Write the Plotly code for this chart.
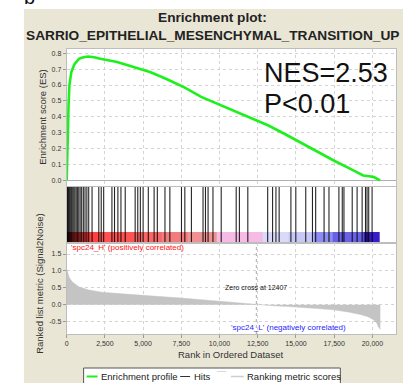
import plotly.graph_objects as go

W, H = 412, 383

# ---------------- data ----------------
es_rank = [0, 40, 80, 120, 180, 300, 500, 800, 1100, 1400, 1800, 2200, 2700, 3300,
           4000, 4500, 5500, 6600, 7700, 8800, 9900, 11000, 12100, 13200, 14300,
           15300, 16400, 17500, 18500, 19400, 19800, 20100, 20500]
es_value = [0.0, 0.1, 0.3, 0.47, 0.6, 0.68, 0.73, 0.765, 0.775, 0.78, 0.775, 0.765,
            0.755, 0.745, 0.725, 0.71, 0.68, 0.635, 0.585, 0.525, 0.48, 0.44, 0.395,
            0.345, 0.29, 0.237, 0.18, 0.123, 0.075, 0.03, 0.025, 0.02, 0.0]

hit_ranks = [20, 60, 110, 160, 210, 270, 330, 400, 470, 540, 620, 700, 790, 880, 980,
             1090, 1200, 1320, 1440, 1660, 2100, 2260, 2420, 2960, 3130, 3350, 3550,
             3830, 4480, 4650, 4820, 5000, 5340, 5720, 5930, 6430, 6750, 7510, 7730,
             8160, 8920, 9080, 9250, 9570, 10110, 11090, 11300, 11850, 13150, 13470,
             13690, 13900, 14670, 14990, 15640, 16080, 16290, 16840, 17160, 17810,
             18030, 18140, 18680, 19000, 19330, 19550, 19650, 19760, 19980]

metric_rank = [0, 50, 150, 358, 792, 1442, 2309, 3400, 4477, 5500, 6645, 7700, 8813,
               9900, 10981, 11700, 12407, 13500, 14500, 15320, 16400, 17470, 18400,
               19220, 19700, 20070, 20300, 20390, 20520]
metric_value = [1.07, 0.95, 0.82, 0.68, 0.53, 0.44, 0.37, 0.33, 0.30, 0.265, 0.23, 0.19,
                0.15, 0.11, 0.07, 0.035, 0.0, -0.03, -0.05, -0.07, -0.11, -0.15, -0.21,
                -0.29, -0.35, -0.44, -0.55, -0.65, -0.73]

band_edges = [0, 358, 2000, 4477, 6200, 7946, 9789, 12824, 14500, 16184, 17377, 19436, 20477]
band_index = list(range(len(band_edges) - 1))

x_tick_vals = [0, 2500, 5000, 7500, 10000, 12500, 15000, 17500, 20000]
x_tick_text = ["0", "2,500", "5,000", "7,500", "10,000", "12,500", "15,000", "17,500", "20,000"]
es_tick_vals = [0.0, 0.1, 0.2, 0.3, 0.4, 0.5, 0.6, 0.7, 0.8]
es_tick_text = ["0.0", "0.1", "0.2", "0.3", "0.4", "0.5", "0.6", "0.7", "0.8"]
metric_tick_vals = [-0.5, 0.0, 0.5, 1.0, 1.5]
metric_tick_text = ["-0.5", "0.0", "0.5", "1.0", "1.5"]
zero_cross = 12407

title_line1 = "Enrichment plot:"
title_line2 = "SARRIO_EPITHELIAL_MESENCHYMAL_TRANSITION_UP"
nes_label = "NES=2.53"
p_label = "P<0.01"

# ---------------- styles ----------------
band_colors = ["#b0101c", "#ff3030", "#ff4444", "#f85a5a", "#f27070", "#ee8888",
               "#f6b6e2", "#d6d6fa", "#c4c4f6", "#8484f0", "#5c54e6", "#2a08c4"]
FONT = "Liberation Sans, Arial, sans-serif"
BEIGE = "#EAE6D5"
GRID = "#d4d4d4"
FRAME = "#bdbdbd"
TICKC = "#333333"
XR = [0, 21550]


def fx(p):
    return p / W


def fy(p):
    return 1 - p / H


fig = go.Figure()

# enrichment profile
fig.add_trace(go.Scatter(x=es_rank, y=es_value, mode="lines",
                         line=dict(color="#1ef01e", width=2.6),
                         xaxis="x", yaxis="y", hoverinfo="skip", showlegend=False))

# hits (drawn below the colour band)
hx, hy = [], []
for r in hit_ranks:
    hx += [r, r, None]
    hy += [0, 1, None]
fig.add_trace(go.Scatter(x=hx, y=hy, mode="lines", line=dict(color="rgba(0,0,0,0.85)", width=1.1),
                         xaxis="x2", yaxis="y2", hoverinfo="skip", showlegend=False))

# colour band
n = len(band_colors)
cscale = [[i / (n - 1), c] for i, c in enumerate(band_colors)]
fig.add_trace(go.Heatmap(x=band_edges, y=[0, 0.196], z=[band_index], colorscale=cscale,
                         zmin=0, zmax=n - 1, showscale=False, opacity=0.92,
                         xaxis="x2", yaxis="y2", hoverinfo="skip"))

# ranking metric
fig.add_trace(go.Scatter(x=metric_rank, y=metric_value, mode="lines", fill="tozeroy",
                         fillcolor="#c4c4c4", line=dict(color="#c4c4c4", width=0.5),
                         xaxis="x3", yaxis="y3", hoverinfo="skip", showlegend=False))

xdom = [fx(65), fx(396)]
common_x = dict(domain=xdom, range=XR, tickvals=x_tick_vals, showline=True, mirror=True,
                linecolor=FRAME, linewidth=1, zeroline=False)

fig.update_layout(
    width=W, height=H, autosize=False,
    margin=dict(l=0, r=0, t=0, b=0),
    paper_bgcolor=BEIGE, plot_bgcolor="white",
    font=dict(family=FONT, color=TICKC),
    showlegend=False,
    xaxis=dict(**common_x, anchor="y", showticklabels=False, ticks="",
               showgrid=True, gridcolor=GRID, griddash="dot"),
    yaxis=dict(domain=[fy(186), fy(49)], range=[-0.036, 0.827], anchor="x",
               tickvals=es_tick_vals, ticktext=es_tick_text, ticks="outside", ticklen=3,
               tickcolor="#999", tickfont=dict(size=7, color=TICKC),
               showgrid=True, gridcolor=GRID, griddash="dot",
               zeroline=True, zerolinecolor="#b0b0b0", zerolinewidth=1,
               showline=True, mirror=True, linecolor=FRAME),
    xaxis2=dict(**common_x, anchor="y2", showticklabels=False, ticks="", showgrid=False),
    yaxis2=dict(domain=[fy(243), fy(187)], range=[0, 1], anchor="x2", showgrid=False,
                showticklabels=False, ticks="", zeroline=False,
                showline=True, mirror=True, linecolor=FRAME),
    xaxis3=dict(**common_x, anchor="y3", ticktext=x_tick_text, ticks="outside", ticklen=3,
                tickcolor="#999", tickfont=dict(size=7, color=TICKC),
                showgrid=True, gridcolor=GRID, griddash="dot"),
    yaxis3=dict(domain=[fy(334), fy(243)], range=[-0.863, 1.825], anchor="x3",
                tickvals=metric_tick_vals, ticktext=metric_tick_text, ticks="outside",
                ticklen=3, tickcolor="#999", tickfont=dict(size=7, color=TICKC),
                showgrid=True, gridcolor=GRID, griddash="dot", zeroline=False,
                showline=True, mirror=True, linecolor=FRAME),
)

WHITE_STRIP = dict(type="rect", xref="paper", yref="paper", fillcolor="white",
                   line=dict(width=0), layer="above")
shapes = [
    dict(WHITE_STRIP, x0=-0.01, x1=fx(22), y0=-0.01, y1=1.01),
    dict(WHITE_STRIP, x0=fx(403), x1=1.01, y0=-0.01, y1=1.01),
    dict(WHITE_STRIP, x0=-0.01, x1=1.01, y0=fy(9), y1=1.01),
    dict(type="line", xref="x3", yref="y3", x0=zero_cross, x1=zero_cross, y0=-0.863, y1=1.825,
         line=dict(color="#a8a8a8", width=1, dash="dot")),
    # legend
    dict(type="rect", xref="paper", yref="paper", x0=fx(82), x1=fx(340), y0=fy(385), y1=fy(368),
         fillcolor="white", line=dict(color="#555", width=1), layer="above"),
    dict(type="line", xref="paper", yref="paper", x0=fx(85), x1=fx(96), y0=fy(376.5), y1=fy(376.5),
         line=dict(color="#1ef01e", width=2)),
    dict(type="line", xref="paper", yref="paper", x0=fx(179), x1=fx(189), y0=fy(376.5), y1=fy(376.5),
         line=dict(color="#333", width=1)),
    dict(type="line", xref="paper", yref="paper", x0=fx(216), x1=fx(225), y0=fy(371.5), y1=fy(371.5),
         line=dict(color="#d8d8d8", width=1)),
    dict(type="line", xref="paper", yref="paper", x0=fx(230), x1=fx(243), y0=fy(376.5), y1=fy(376.5),
         line=dict(color="#cfcfcf", width=1.5)),
]
fig.update_layout(shapes=shapes)

ann = []


def add_text(text, x, y, size, color="#222", xanchor="center", yanchor="middle", angle=0, bold=False):
    t = "<b>" + text + "</b>" if bold else text
    ann.append(dict(text=t, x=fx(x), y=fy(y), xref="paper", yref="paper", xanchor=xanchor,
                    yanchor=yanchor, showarrow=False, textangle=angle,
                    font=dict(family=FONT, size=size, color=color)))


add_text("b", 28, -3, 20, color="#111")
add_text(title_line1, 212, 17, 13.7, bold=True)
add_text(title_line2, 212, 35.5, 13.7, bold=True)
add_text(nes_label, 261, 72.5, 27, color="#111", xanchor="left")
add_text(p_label, 261, 104, 27, color="#111", xanchor="left")
add_text("Enrichment score (ES)", 40, 117, 9.5, color="#333", angle=-90)
add_text("Ranked list metric (Signal2Noise)", 37, 284, 9.5, color="#333", angle=-90)
add_text("Rank in Ordered Dataset", 230, 354, 9.5, color="#333")
add_text("Enrichment profile", 97, 376.5, 9.5, color="#222", xanchor="left")
add_text("Hits", 190.5, 376.5, 9.5, color="#222", xanchor="left")
add_text("Ranking metric scores", 244.5, 376.5, 9.5, color="#222", xanchor="left")

for a in ann:
    fig.add_annotation(**a)

# in-panel labels (data coords)
fig.add_annotation(text="'spc24_H' (positively correlated)", x=150, y=1.70, xref="x3", yref="y3",
                   xanchor="left", yanchor="middle", showarrow=False,
                   font=dict(family=FONT, size=8, color="#ff1414"))
fig.add_annotation(text="'spc24_L' (negatively correlated)", x=18400, y=-0.67, xref="x3", yref="y3",
                   xanchor="right", yanchor="middle", showarrow=False,
                   font=dict(family=FONT, size=8, color="#1f1fff"))
fig.add_annotation(text="Zero cross at 12407", x=zero_cross, y=0.5, xref="x3", yref="y3",
                   xanchor="center", yanchor="middle", showarrow=False,
                   font=dict(family=FONT, size=7, color="#111"))

fig.write_html("out.html", config={"displayModeBar": False},
               post_script="document.body.style.margin='0';document.body.style.padding='0';")
